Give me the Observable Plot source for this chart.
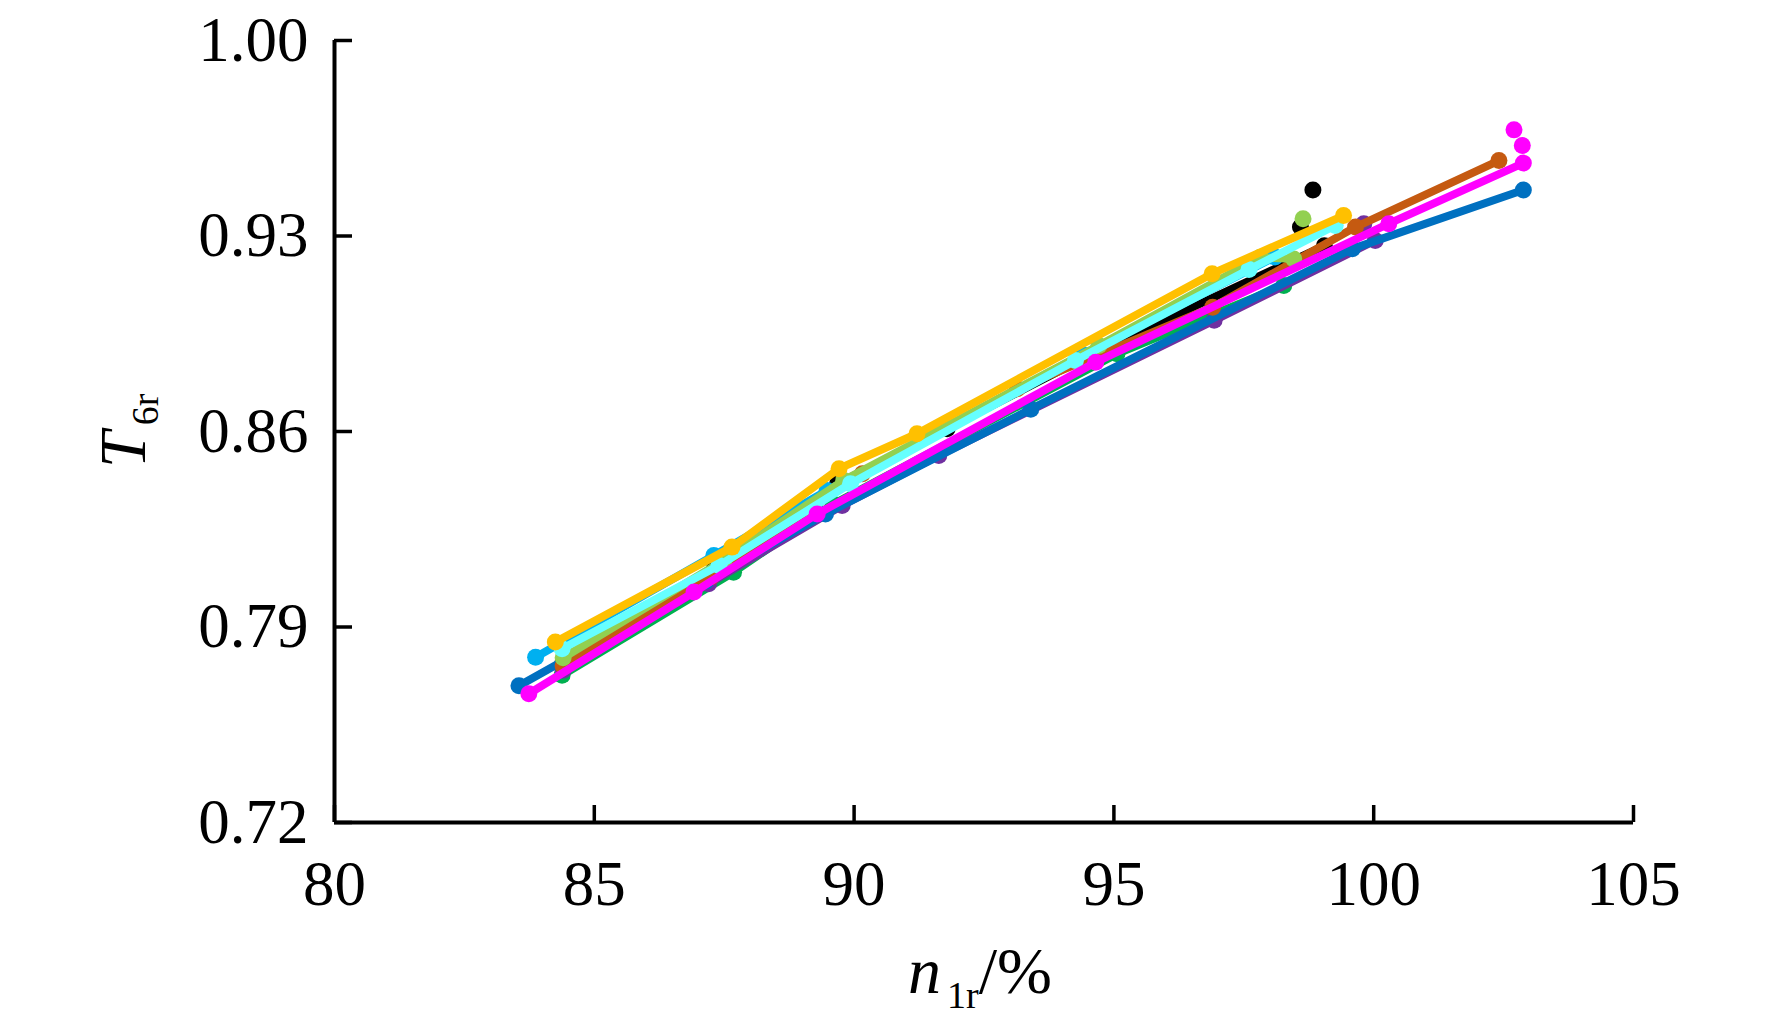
<!DOCTYPE html>
<html>
<head>
<meta charset="utf-8">
<script src="https://cdn.jsdelivr.net/npm/d3@7"></script>
<script src="https://cdn.jsdelivr.net/npm/@observablehq/plot@0.6"></script>
<style>
  html, body { margin: 0; padding: 0; background: #fff; }
  #chart { width: 1772px; height: 1029px; }
</style>
</head>
<body>
<div id="chart"></div>
<script>
// ---- data ----
const seriesNames = ["S1", "S2", "S3", "S4", "S5", "S6", "S7", "S8", "S9", "S10"];

const xS1 = [83.55, 87.15, 89.45, 93.4, 99.59, 102.88];                 // dark blue
const yS1 = [0.769, 0.8065, 0.8305, 0.868, 0.9254, 0.9465];
const xS2 = [84.4, 87.25, 90.16, 93.14, 96.9, 99.65, 102.41];           // brown
const yS2 = [0.776, 0.808, 0.8449, 0.8753, 0.9045, 0.9332, 0.957];
const xS3 = [84.38, 87.68, 89.6, 95.06, 98.27];                         // green
const yS3 = [0.7727, 0.8096, 0.834, 0.8878, 0.9123];
const xS4 = [84.4, 87.2, 89.77, 91.63, 96.93, 100.03];                  // purple
const yS4 = [0.7745, 0.8055, 0.8335, 0.8514, 0.8998, 0.9284];
const xS5 = [84.4, 87.5, 89.8, 94.71, 97.82, 98.46];                    // light green
const yS5 = [0.779, 0.814, 0.8425, 0.8908, 0.9224, 0.9218];
const xS6 = [83.87, 87.3, 89.48, 94.4, 98.1];                           // sky blue
const yS6 = [0.7792, 0.8156, 0.8389, 0.8875, 0.9225];
const xS7 = [84.4, 87.3, 89.68, 91.79, 94.5, 99.05];                    // black
const yS7 = [0.7775, 0.8105, 0.8413, 0.861, 0.887, 0.9265];
const xS8 = [84.25, 87.65, 89.71, 91.21, 96.89, 99.42];                 // gold
const yS8 = [0.7846, 0.8186, 0.8467, 0.8592, 0.9165, 0.9373];
const xS9 = [84.38, 87.4, 89.93, 94.26, 97.6, 99.26];                   // cyan
const yS9 = [0.7822, 0.812, 0.8413, 0.8854, 0.918, 0.9338];
const xS10 = [83.74, 86.92, 89.29, 94.65, 100.29, 102.88];              // magenta
const yS10 = [0.7661, 0.8025, 0.8305, 0.8848, 0.9344, 0.9561];

// isolated points without connecting line
const extraSeries = ["S10", "S10", "S7", "S7", "S5", "S4"];
const extraX = [102.70, 102.86, 98.83, 98.59, 98.64, 99.81];
const extraY = [0.968, 0.9624, 0.9465, 0.9332, 0.9362, 0.9344];

const xTicks = [80, 85, 90, 95, 100, 105];
const yTicks = [0.72, 0.79, 0.86, 0.93, 1.00];

// ---- styles ----
const palette = ["#0070C0", "#C55A11", "#00B050", "#7030A0", "#92D050",
                 "#00B0F0", "#000000", "#FFC000", "#66FFFF", "#FF00FF"];
// bottom-to-top drawing order (series indices)
const drawOrder = [6, 2, 3, 0, 5, 1, 4, 8, 7, 9];

const xs = [xS1, xS2, xS3, xS4, xS5, xS6, xS7, xS8, xS9, xS10];
const ys = [yS1, yS2, yS3, yS4, yS5, yS6, yS7, yS8, yS9, yS10];
const rows = seriesNames.map((s, i) => xs[i].map((x, j) => ({series: s, x, y: ys[i][j]})));
const extras = extraSeries.map((s, i) => ({series: s, x: extraX[i], y: extraY[i]}));

const font = "'Liberation Serif', 'Times New Roman', serif";

const marks = [];
drawOrder.forEach(i => {
  const r = rows[i];
  marks.push(Plot.line(r, {x: "x", y: "y", stroke: "series", strokeWidth: 8, strokeLinejoin: "round", strokeLinecap: "round"}));
  marks.push(Plot.dot(r, {x: "x", y: "y", fill: "series", r: 8.5}));
  const e = extras.filter(d => d.series === seriesNames[i]);
  if (e.length) marks.push(Plot.dot(e, {x: "x", y: "y", fill: "series", r: 8.5}));
});

const chart = Plot.plot({
  width: 1772,
  height: 1029,
  marginLeft: 334,
  marginRight: 139,
  marginTop: 40,
  marginBottom: 207,
  style: {fontFamily: font, fontSize: "62px", color: "#000", background: "#fff", overflow: "visible"},
  x: {domain: [80, 105]},
  y: {domain: [0.72, 1.00]},
  color: {domain: seriesNames, range: palette},
  marks: [
    ...marks,
    Plot.ruleX([80], {strokeWidth: 4, stroke: "#000"}),
    Plot.ruleY([0.72], {strokeWidth: 4, stroke: "#000"}),
    Plot.axisX({ticks: xTicks, tickSize: -17, tickPadding: 55, strokeWidth: 3.5, label: null, fontSize: 63, fontFamily: font, tickFormat: d => String(d)}),
    Plot.axisY({ticks: yTicks, tickSize: -18, tickPadding: 44, strokeWidth: 3.5, label: null, fontSize: 63, fontFamily: font, tickFormat: d => d.toFixed(2)})
  ]
});

document.getElementById("chart").appendChild(chart);

// axis titles
const svg = d3.select(chart);
const xl = svg.append("text")
  .attr("x", 908).attr("y", 993).attr("text-anchor", "start")
  .attr("font-family", font).attr("font-size", 66).attr("fill", "#000");
xl.append("tspan").attr("font-style", "italic").text("n");
xl.append("tspan").attr("font-size", 38).attr("dy", 15).attr("dx", 6).text("1r");
xl.append("tspan").attr("dy", -15).text("/%");

const yl = svg.append("text")
  .attr("transform", "translate(145,468) rotate(-90)").attr("text-anchor", "start")
  .attr("font-family", font).attr("font-size", 66).attr("fill", "#000");
yl.append("tspan").attr("font-style", "italic").text("T");
yl.append("tspan").attr("font-size", 38).attr("dy", 13).attr("dx", 6).text("6r");
</script>
</body>
</html>
